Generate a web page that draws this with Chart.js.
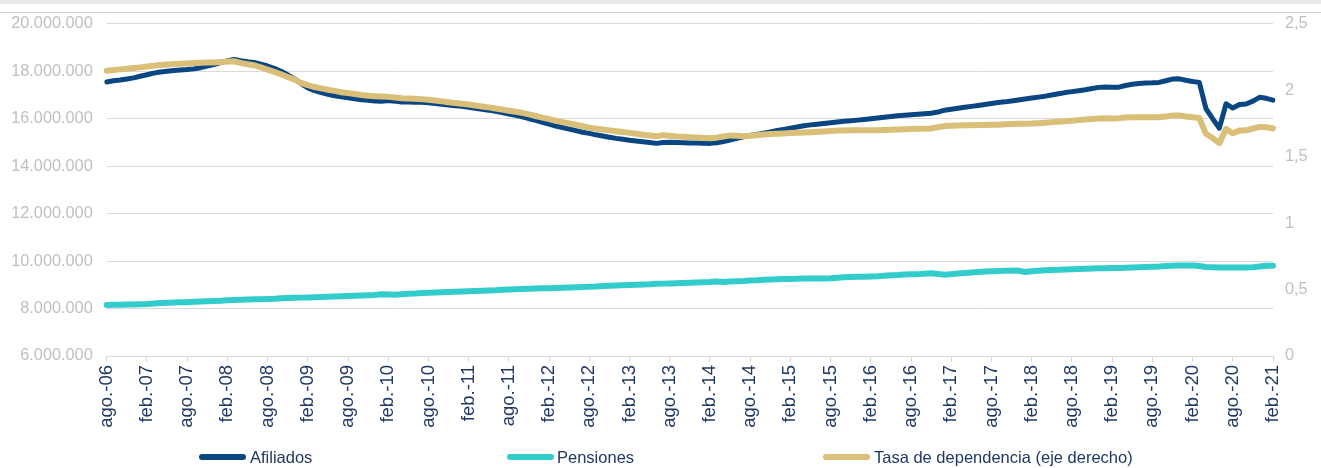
<!DOCTYPE html>
<html>
<head>
<meta charset="utf-8">
<script src="https://cdn.jsdelivr.net/npm/chart.js@4.4.1/dist/chart.umd.min.js"></script>
<style>
  html, body { margin: 0; padding: 0; background: #fff; }
  #wrap { position: relative; width: 1321px; height: 468px; font-family: "Liberation Sans", Arial, sans-serif; }
  #topband { position: absolute; left: 0; top: 0; width: 1321px; height: 4px; background: #e8e8e8; }
  #topline { position: absolute; left: 0; top: 12px; width: 1321px; height: 1px; background: #cfcfcf; }
  .leg { position: absolute; top: 447px; height: 20px; line-height: 20px; font-size: 16.5px; color: #203864; white-space: nowrap; }
  .leg i { position: absolute; top: 7px; height: 6px; width: 47px; border-radius: 3px; }
  .leg span { position: absolute; }
</style>
</head>
<body>
<div id="wrap">
  <canvas id="chart" width="1321" height="468"></canvas>
  <div id="topband"></div>
  <div id="topline"></div>
  <div class="leg" style="left:199px"><i style="left:0;background:#0a4682"></i><span style="left:51px">Afiliados</span></div>
  <div class="leg" style="left:507px"><i style="left:0;background:#33cccc"></i><span style="left:50px">Pensiones</span></div>
  <div class="leg" style="left:823px"><i style="left:0;background:#d9bf77"></i><span style="left:51px">Tasa de dependencia (eje derecho)</span></div>
</div>
<script>
// monthly series, ago-06 .. feb-21
const monthNames = ['ene.', 'feb.', 'mar.', 'abr.', 'may.', 'jun.', 'jul.', 'ago.', 'sep.', 'oct.', 'nov.', 'dic.'];
const startYear = 2006;
const startMonth = 7; // ago.
const nMonths = 175;

const afiliados = [
  17550000, 17600000, 17630000, 17670000, 17720000, 17790000, 17850000, 17920000, 17970000, 18000000,
  18030000, 18050000, 18070000, 18100000, 18150000, 18220000, 18280000, 18360000, 18440000, 18500000,
  18440000, 18400000, 18370000, 18300000, 18220000, 18120000, 18000000, 17850000, 17680000, 17480000,
  17300000, 17180000, 17100000, 17030000, 16970000, 16920000, 16880000, 16840000, 16800000, 16780000,
  16750000, 16740000, 16770000, 16740000, 16700000, 16700000, 16690000, 16690000, 16670000, 16640000,
  16610000, 16580000, 16550000, 16520000, 16480000, 16440000, 16400000, 16360000, 16310000, 16260000,
  16200000, 16140000, 16080000, 16000000, 15930000, 15850000, 15770000, 15690000, 15630000, 15560000,
  15500000, 15430000, 15380000, 15320000, 15270000, 15220000, 15170000, 15130000, 15090000, 15060000,
  15030000, 15000000, 14960000, 15000000, 15010000, 15000000, 14990000, 14980000, 14980000, 14970000,
  14960000, 14990000, 15040000, 15100000, 15170000, 15240000, 15290000, 15340000, 15390000, 15440000,
  15500000, 15550000, 15600000, 15650000, 15700000, 15740000, 15770000, 15800000, 15830000, 15860000,
  15890000, 15910000, 15940000, 15970000, 16000000, 16030000, 16060000, 16090000, 16120000, 16150000,
  16170000, 16190000, 16210000, 16230000, 16280000, 16360000, 16400000, 16440000, 16480000, 16520000,
  16560000, 16600000, 16640000, 16680000, 16710000, 16750000, 16790000, 16830000, 16870000, 16910000,
  16950000, 17000000, 17050000, 17100000, 17140000, 17180000, 17220000, 17270000, 17320000, 17340000,
  17330000, 17330000, 17400000, 17450000, 17480000, 17500000, 17510000, 17530000, 17600000, 17670000,
  17680000, 17620000, 17570000, 17530000, 16420000, 16000000, 15600000, 16630000, 16450000, 16600000,
  16620000, 16740000, 16900000, 16860000, 16780000
];

const pensiones = [
  8150000, 8160000, 8160000, 8170000, 8170000, 8180000, 8190000, 8210000, 8230000, 8240000,
  8250000, 8260000, 8270000, 8290000, 8300000, 8310000, 8320000, 8330000, 8350000, 8360000,
  8370000, 8380000, 8390000, 8390000, 8400000, 8410000, 8430000, 8440000, 8450000, 8460000,
  8470000, 8480000, 8490000, 8500000, 8510000, 8520000, 8530000, 8540000, 8550000, 8560000,
  8570000, 8600000, 8590000, 8580000, 8600000, 8620000, 8630000, 8650000, 8670000, 8680000,
  8690000, 8700000, 8710000, 8720000, 8730000, 8740000, 8750000, 8760000, 8770000, 8790000,
  8800000, 8810000, 8820000, 8830000, 8840000, 8850000, 8860000, 8870000, 8880000, 8890000,
  8900000, 8910000, 8920000, 8930000, 8950000, 8960000, 8970000, 8980000, 8990000, 9000000,
  9010000, 9020000, 9040000, 9050000, 9060000, 9070000, 9080000, 9090000, 9100000, 9110000,
  9120000, 9140000, 9120000, 9140000, 9150000, 9160000, 9180000, 9190000, 9210000, 9220000,
  9230000, 9240000, 9250000, 9260000, 9270000, 9270000, 9270000, 9270000, 9280000, 9300000,
  9320000, 9330000, 9340000, 9340000, 9350000, 9360000, 9380000, 9400000, 9410000, 9430000,
  9440000, 9450000, 9470000, 9490000, 9460000, 9420000, 9450000, 9480000, 9500000, 9520000,
  9540000, 9560000, 9570000, 9580000, 9590000, 9590000, 9600000, 9540000, 9570000, 9590000,
  9610000, 9620000, 9630000, 9650000, 9660000, 9670000, 9680000, 9690000, 9700000, 9700000,
  9710000, 9710000, 9720000, 9730000, 9740000, 9750000, 9760000, 9770000, 9790000, 9800000,
  9810000, 9810000, 9810000, 9790000, 9750000, 9740000, 9730000, 9730000, 9730000, 9730000,
  9730000, 9740000, 9770000, 9800000, 9800000
];

const tasaDependencia = [
  2.146, 2.152, 2.157, 2.162, 2.167, 2.172, 2.178, 2.184, 2.189, 2.193,
  2.197, 2.200, 2.202, 2.204, 2.206, 2.208, 2.208, 2.212, 2.216, 2.218,
  2.205, 2.196, 2.188, 2.172, 2.155, 2.138, 2.120, 2.100, 2.080, 2.055,
  2.038, 2.024, 2.014, 2.004, 1.995, 1.985, 1.978, 1.971, 1.964, 1.959,
  1.955, 1.952, 1.950, 1.946, 1.940, 1.937, 1.935, 1.933, 1.928, 1.922,
  1.916, 1.910, 1.904, 1.898, 1.892, 1.885, 1.878, 1.871, 1.863, 1.855,
  1.846, 1.838, 1.830, 1.818, 1.806, 1.794, 1.782, 1.770, 1.760, 1.750,
  1.740, 1.729, 1.718, 1.711, 1.704, 1.698, 1.692, 1.686, 1.679, 1.672,
  1.665, 1.659, 1.654, 1.662, 1.658, 1.652, 1.649, 1.647, 1.644, 1.641,
  1.638, 1.643, 1.652, 1.660, 1.657, 1.654, 1.657, 1.662, 1.666, 1.670,
  1.672, 1.675, 1.678, 1.680, 1.682, 1.684, 1.687, 1.690, 1.693, 1.696,
  1.697, 1.698, 1.698, 1.699, 1.699, 1.699, 1.701, 1.703, 1.705, 1.707,
  1.709, 1.710, 1.711, 1.712, 1.722, 1.730, 1.733, 1.735, 1.736, 1.737,
  1.738, 1.739, 1.740, 1.741, 1.744, 1.745, 1.747, 1.748, 1.749, 1.752,
  1.756, 1.760, 1.763, 1.766, 1.770, 1.775, 1.780, 1.784, 1.787, 1.790,
  1.788, 1.790, 1.795, 1.796, 1.796, 1.796, 1.796, 1.797, 1.803, 1.809,
  1.810, 1.802, 1.796, 1.791, 1.672, 1.640, 1.602, 1.709, 1.676, 1.696,
  1.698, 1.712, 1.724, 1.722, 1.712
];

const labels = [];
for (let i = 0; i < nMonths; i++) {
  const m = (startMonth + i) % 12;
  const y = startYear + Math.floor((startMonth + i) / 12);
  labels.push(monthNames[m] + '-' + String(y % 100).padStart(2, '0'));
}

const gridColor = '#d9d9d9';
const axisText = '#bfbfbf';

function fmtMiles(v) {
  return String(Math.round(v)).replace(/\B(?=(\d{3})+(?!\d))/g, '.');
}

const ctx = document.getElementById('chart').getContext('2d');

const chart = new Chart(ctx, {
  type: 'line',
  data: {
    labels: labels,
    datasets: [
      {
        label: 'Afiliados',
        data: afiliados,
        yAxisID: 'y',
        borderColor: '#0a4682',
        borderWidth: 5,
        order: 2
      },
      {
        label: 'Pensiones',
        data: pensiones,
        yAxisID: 'y',
        borderColor: '#33cccc',
        borderWidth: 6,
        order: 1
      },
      {
        label: 'Tasa de dependencia (eje derecho)',
        data: tasaDependencia,
        yAxisID: 'y2',
        borderColor: '#d9bf77',
        borderWidth: 6,
        order: 0
      }
    ]
  },
  options: {
    responsive: false,
    animation: false,
    layout: { padding: { top: 22, bottom: 0, left: 0, right: 0 } },
    elements: {
      point: { radius: 0 },
      line: { tension: 0, borderJoinStyle: 'round', borderCapStyle: 'round' }
    },
    plugins: {
      legend: { display: false },
      tooltip: { enabled: false }
    },
    scales: {
      x: {
        type: 'category',
        offset: false,
        border: { display: true, color: gridColor },
        grid: {
          drawOnChartArea: false,
          drawTicks: true,
          tickLength: 6,
          tickColor: (c) => (c.index % 6 === 0 ? gridColor : 'rgba(0,0,0,0)')
        },
        ticks: {
          autoSkip: false,
          maxRotation: 90,
          minRotation: 90,
          padding: 3,
          color: '#203864',
          font: { family: '"Liberation Sans", Arial, sans-serif', size: 18.5 },
          callback: function (value, index) {
            return index % 6 === 0 ? this.getLabelForValue(value) : '';
          }
        },
        afterFit: (scale) => { scale.height = 112; }
      },
      y: {
        position: 'left',
        min: 6000000,
        max: 20000000,
        border: { display: false },
        grid: { color: gridColor, lineWidth: 1, drawTicks: false },
        ticks: {
          stepSize: 2000000,
          padding: 14,
          color: axisText,
          font: { family: '"Liberation Sans", Arial, sans-serif', size: 16.3 },
          callback: (v) => fmtMiles(v)
        },
        afterFit: (scale) => { scale.width = 106.7; }
      },
      y2: {
        position: 'right',
        min: 0,
        max: 2.5,
        border: { display: false },
        grid: { display: false, drawTicks: false },
        ticks: {
          stepSize: 0.5,
          padding: 12,
          color: axisText,
          font: { family: '"Liberation Sans", Arial, sans-serif', size: 16.3 },
          callback: (v) => String(v).replace('.', ',')
        },
        afterFit: (scale) => { scale.width = 48; }
      }
    }
  }
});
</script>
</body>
</html>
